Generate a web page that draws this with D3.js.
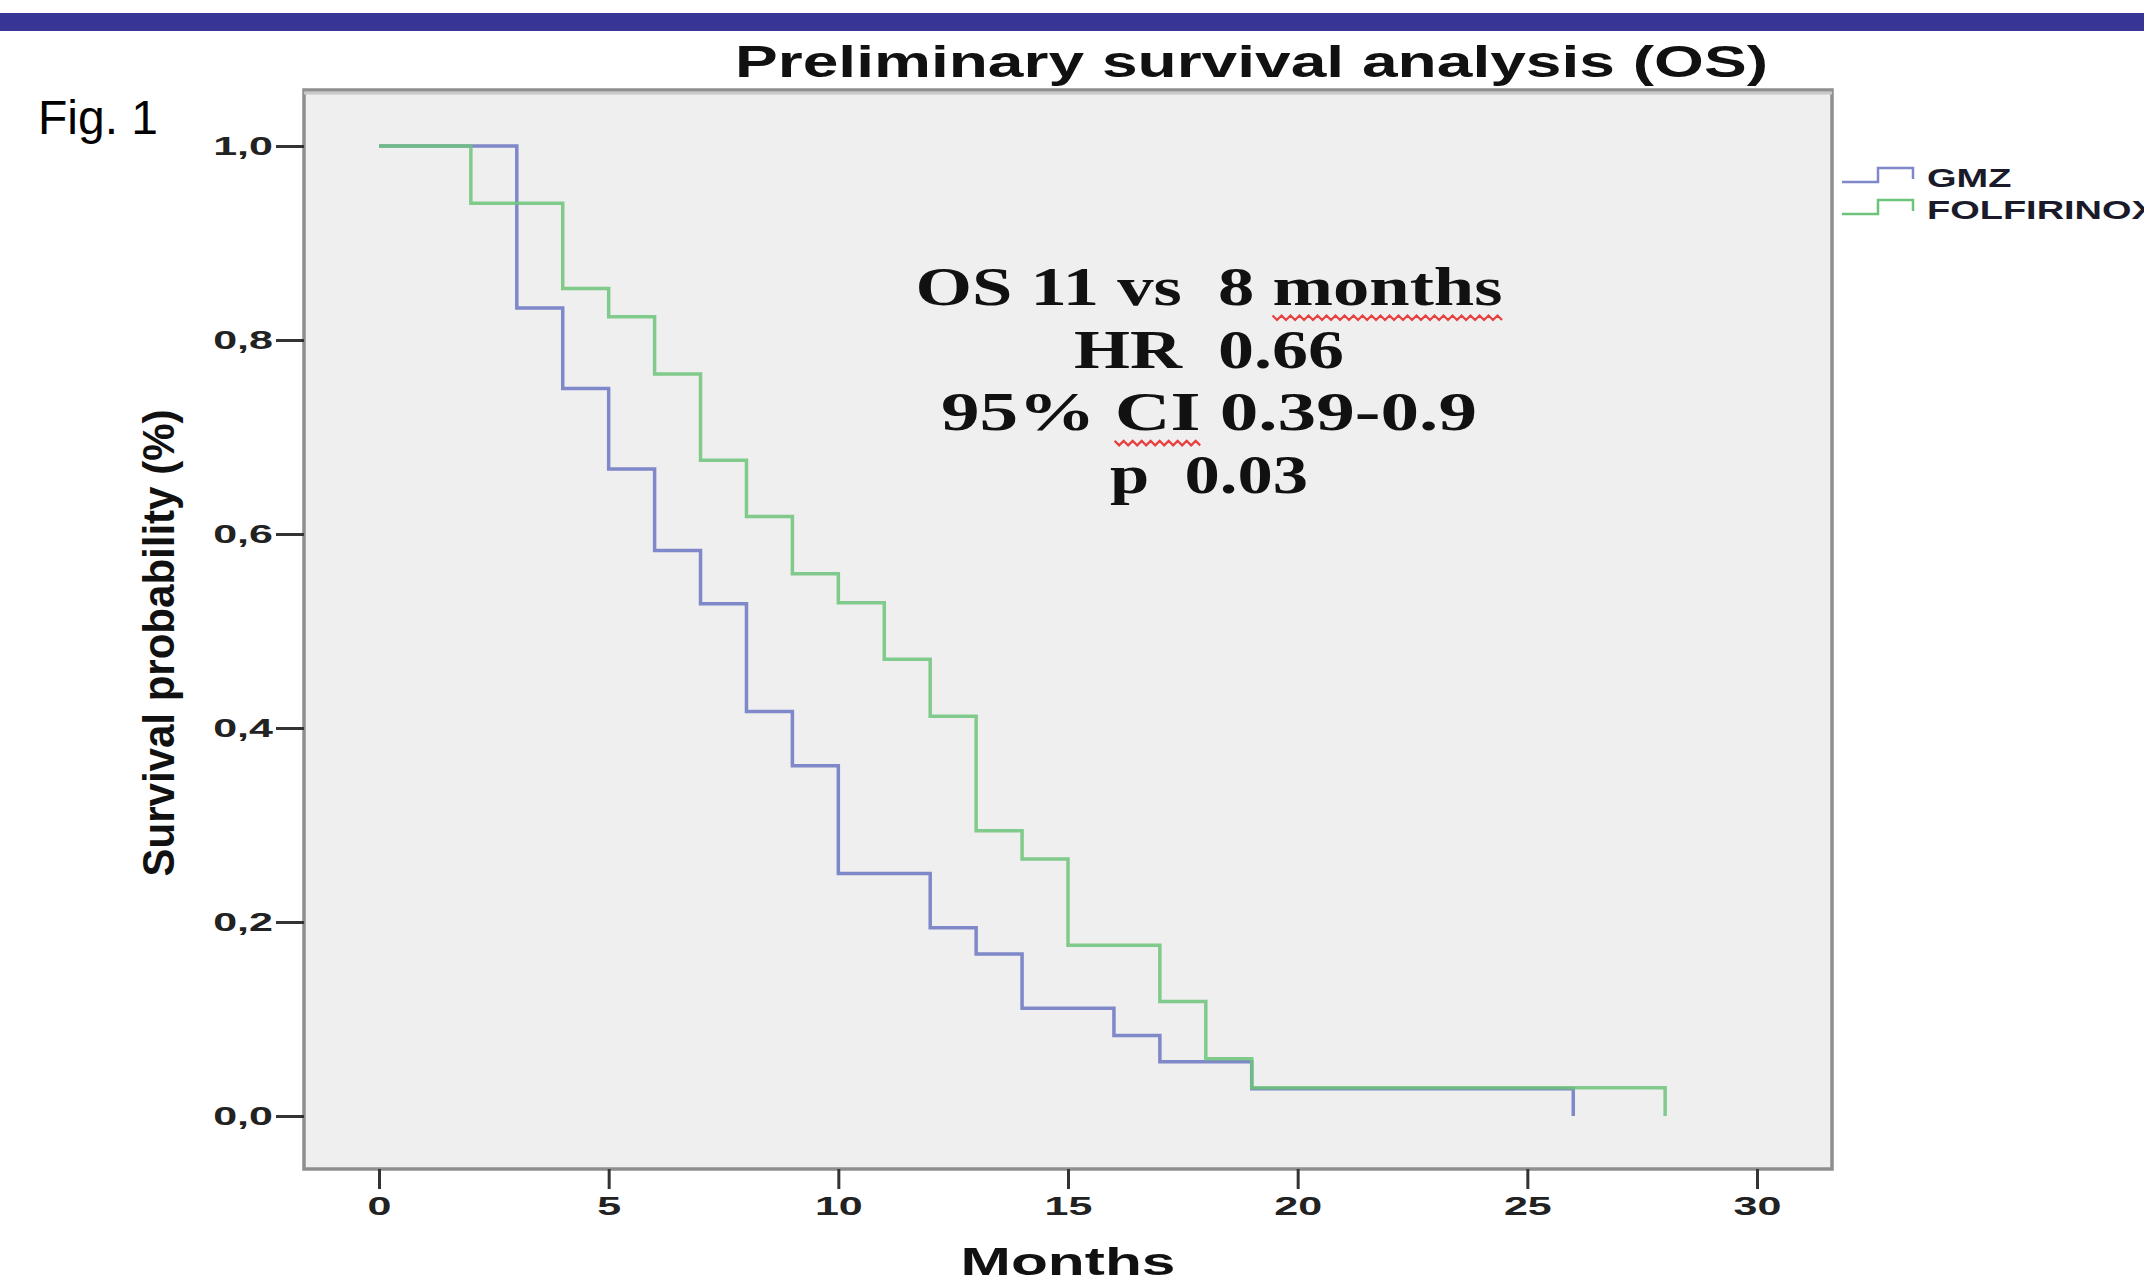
<!DOCTYPE html>
<html>
<head>
<meta charset="utf-8">
<script src="https://cdn.jsdelivr.net/npm/d3@7"></script>
<style>
  body { margin: 0; background: #fff; }
  text { white-space: pre; }
</style>
</head>
<body>
<div id="chart"></div>
<script>
// tick values and labels
const xTicks = [0, 5, 10, 15, 20, 25, 30];
const yTicks = [0, 0.2, 0.4, 0.6, 0.8, 1.0];
const yTickLabels = ["0,0", "0,2", "0,4", "0,6", "0,8", "1,0"];

const groups = ["GMZ", "FOLFIRINOX"];

// Kaplan-Meier steps (months, survival)
const gmzTime = [0, 3, 4, 5, 6, 7, 8, 9, 10, 12, 13, 14, 16, 17, 19, 26];
const gmzSurv = [1.0, 0.833, 0.75, 0.667, 0.583, 0.528, 0.417, 0.361, 0.25, 0.194, 0.167, 0.111, 0.083, 0.056, 0.028, 0.0];

const folTime = [0, 2, 4, 5, 6, 7, 8, 9, 10, 11, 12, 13, 14, 15, 17, 18, 19, 28];
const folSurv = [1.0, 0.941, 0.853, 0.824, 0.765, 0.676, 0.618, 0.559, 0.529, 0.471, 0.412, 0.294, 0.265, 0.176, 0.118, 0.059, 0.029, 0.0];

const statLines = ["OS 11 vs  8 months", "HR  0.66", "95% CI 0.39-0.9", "p  0.03"];

const width = 2144;
const height = 1284;
const frame = { left: 304, right: 1832, top: 90, bottom: 1169 };

const colors = ["#7f88c9", "#6cc47a"];

const x = d3.scaleLinear().domain([0, 30]).range([379, 1757]);
const y = d3.scaleLinear().domain([0, 1]).range([1116, 146]);

const svg = d3.select("#chart")
  .append("svg")
    .attr("width", width)
    .attr("height", height)
    .style("font-family", "'Liberation Sans', Arial, sans-serif");

// stretch text horizontally, like the scaled SPSS export
function stretch(sel, k) {
  sel.each(function() {
    const len = this.getComputedTextLength();
    d3.select(this)
      .attr("textLength", len * k)
      .attr("lengthAdjust", "spacingAndGlyphs");
  });
}

// top band
svg.append("rect")
  .attr("x", 0).attr("y", 13)
  .attr("width", width).attr("height", 18)
  .attr("fill", "#373596");

svg.append("text")
  .attr("x", 38).attr("y", 134)
  .attr("font-size", 48)
  .attr("fill", "#000")
  .text("Fig. 1");

// plot frame
svg.append("rect")
  .attr("x", frame.left).attr("y", frame.top)
  .attr("width", frame.right - frame.left)
  .attr("height", frame.bottom - frame.top)
  .attr("fill", "#efefef")
  .attr("stroke", "#8f8f8f")
  .attr("stroke-width", 3.5);

svg.append("line")
  .attr("x1", frame.left).attr("x2", frame.right)
  .attr("y1", frame.top + 3).attr("y2", frame.top + 3)
  .attr("stroke", "#c8c8c8").attr("stroke-width", 3);

const title = svg.append("text")
  .attr("x", 735).attr("y", 77)
  .attr("font-size", 44)
  .attr("font-weight", "bold")
  .attr("fill", "#111")
  .text("Preliminary survival analysis (OS)");
title.attr("textLength", 1033).attr("lengthAdjust", "spacingAndGlyphs");

// axes
const yAxis = svg.append("g")
  .attr("transform", `translate(${frame.left},0)`)
  .call(d3.axisLeft(y)
    .tickValues(yTicks)
    .tickFormat((d, i) => yTickLabels[i])
    .tickSize(28)
    .tickPadding(3));

const xAxis = svg.append("g")
  .attr("transform", `translate(0,${frame.bottom})`)
  .call(d3.axisBottom(x)
    .tickValues(xTicks)
    .tickSize(20)
    .tickPadding(8));

[yAxis, xAxis].forEach(ax => {
  ax.select(".domain").remove();
  ax.selectAll(".tick line").attr("stroke", "#333").attr("stroke-width", 3);
  ax.selectAll(".tick text")
    .attr("font-size", 25)
    .attr("font-weight", "bold")
    .attr("font-family", "'Liberation Sans', Arial, sans-serif")
    .attr("fill", "#222")
    .call(stretch, 1.72);
});

svg.append("text")
  .attr("x", (frame.left + frame.right) / 2)
  .attr("y", 1275)
  .attr("text-anchor", "middle")
  .attr("font-size", 39)
  .attr("font-weight", "bold")
  .attr("fill", "#111")
  .text("Months")
  .call(stretch, 1.55);

svg.append("text")
  .attr("transform", "translate(174,643) rotate(-90)")
  .attr("text-anchor", "middle")
  .attr("font-size", 45)
  .attr("font-weight", "bold")
  .attr("fill", "#111")
  .attr("textLength", 467)
  .attr("lengthAdjust", "spacingAndGlyphs")
  .text("Survival probability (%)");

// survival curves
const series = [
  { name: groups[0], time: gmzTime, surv: gmzSurv },
  { name: groups[1], time: folTime, surv: folSurv }
];

const line = d3.line()
  .x(d => x(d[0]))
  .y(d => y(d[1]))
  .curve(d3.curveStepAfter);

svg.append("g")
  .selectAll("path")
  .data(series)
  .join("path")
    .attr("fill", "none")
    .attr("stroke", (d, i) => colors[i])
    .attr("stroke-width", 3.5)
    .attr("stroke-opacity", (d, i) => i === 1 ? 0.85 : 1)
    .attr("d", d => line(d.time.map((t, i) => [t, d.surv[i]])));

// statistics annotation
const statWidths = [587, 270, 536, 198];
const stat = svg.append("g")
  .attr("font-family", "'Liberation Serif', 'Times New Roman', serif")
  .attr("font-weight", "bold")
  .attr("font-size", 54)
  .attr("text-anchor", "middle")
  .attr("fill", "#111");

const statText = stat.selectAll("text")
  .data(statLines)
  .join("text")
    .attr("x", 1209)
    .attr("y", (d, i) => 305 + i * 62.7)
    .attr("textLength", (d, i) => statWidths[i])
    .attr("lengthAdjust", "spacingAndGlyphs")
    .text(d => d);

// spell-check squiggles under "months" and "CI"
function squiggle(node, word, yOff) {
  const s = node.textContent;
  const i0 = s.indexOf(word);
  const a = node.getStartPositionOfChar(i0);
  const b = node.getEndPositionOfChar(i0 + word.length - 1);
  const yy = a.y + yOff;
  const pts = [];
  for (let xx = a.x, k = 0; xx <= b.x + 2; xx += 4.5, k++) {
    pts.push([xx, yy + (k % 2 ? 3 : -1.5)]);
  }
  svg.append("path")
    .attr("d", d3.line()(pts))
    .attr("fill", "none")
    .attr("stroke", "#e8403f")
    .attr("stroke-width", 2.2);
}
squiggle(statText.nodes()[0], "months", 12);
squiggle(statText.nodes()[2], "CI", 12);

// legend
const legend = svg.append("g");
const legendRows = [182, 214];
groups.forEach((g, i) => {
  const yy = legendRows[i];
  legend.append("path")
    .attr("d", `M1842,${yy}H1878V${yy - 14}H1913V${yy - 3}`)
    .attr("fill", "none")
    .attr("stroke", colors[i])
    .attr("stroke-width", 2.5);
  legend.append("text")
    .attr("x", 1927)
    .attr("y", yy + 5)
    .attr("font-size", 26)
    .attr("font-weight", "bold")
    .attr("fill", "#1a1a2a")
    .text(g)
    .call(stretch, 1.46);
});
</script>
</body>
</html>
